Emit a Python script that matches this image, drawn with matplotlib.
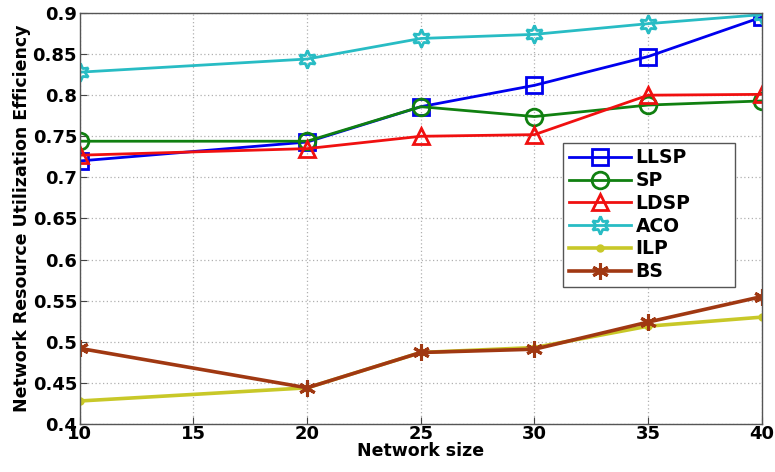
import matplotlib
matplotlib.use("Agg")
import matplotlib.pyplot as plt

network_size = [10, 20, 25, 30, 35, 40]
llsp = [0.720, 0.743, 0.786, 0.812, 0.847, 0.895]
sp = [0.744, 0.744, 0.786, 0.774, 0.788, 0.793]
ldsp = [0.727, 0.735, 0.750, 0.752, 0.800, 0.801]
aco = [0.828, 0.844, 0.869, 0.874, 0.887, 0.898]
ilp = [0.428, 0.444, 0.487, 0.493, 0.519, 0.530]
bs = [0.492, 0.444, 0.487, 0.491, 0.524, 0.555]

x_ticks = [10, 15, 20, 25, 30, 35, 40]
y_ticks = [0.4, 0.45, 0.5, 0.55, 0.6, 0.65, 0.7, 0.75, 0.8, 0.85, 0.9]

plt.rcParams['font.family'] = ['DejaVu Sans']
plt.rcParams['font.weight'] = 'bold'

fig = plt.figure(figsize=(7.75, 4.72), dpi=100)
ax = fig.add_axes([0.103, 0.1017, 0.880, 0.8708])

lw = 2.0
ax.plot(network_size, llsp, color='#0000EE', marker='s', markersize=11,
        markerfacecolor='none', markeredgewidth=2, linewidth=lw, label='LLSP')
ax.plot(network_size, sp, color='#108010', marker='o', markersize=12,
        markerfacecolor='none', markeredgewidth=2, linewidth=lw, label='SP')
ax.plot(network_size, ldsp, color='#F01010', marker='^', markersize=12,
        markerfacecolor='none', markeredgewidth=2, linewidth=lw, label='LDSP')
ax.plot(network_size, aco, color='#28BCC4', marker=(6, 1, 0), markersize=13,
        markerfacecolor='none', markeredgewidth=2, linewidth=lw, label='ACO')
ax.plot(network_size, ilp, color='#C8C828', marker='o', markersize=5,
        linewidth=lw + 0.6, label='ILP')
ax.plot(network_size, bs, color='#A03812', marker=(6, 2, 0), markersize=12,
        markeredgewidth=2.2, linewidth=lw + 0.6, label='BS')

ax.set_xlim(10, 40)
ax.set_ylim(0.4, 0.9)
ax.set_xticks(x_ticks)
ax.set_yticks(y_ticks)
ax.set_yticklabels([f"{v:g}" for v in y_ticks])
ax.tick_params(direction='in', labelsize=13, length=5, color='#444444')
for lab in ax.get_xticklabels() + ax.get_yticklabels():
    lab.set_fontweight('bold')
ax.tick_params(axis='x', pad=1)
ax.tick_params(axis='y', pad=2)
for s in ax.spines.values():
    s.set_color('#555555')
    s.set_linewidth(1.0)

ax.grid(True, linestyle=(0, (1, 2)), color='#B0B0B0', linewidth=0.9)

ax.set_xlabel('Network size', fontsize=12.5, fontweight='bold', labelpad=-1)
ax.set_ylabel('Network Resource Utilization Efficiency', fontsize=12.5,
              fontweight='bold', labelpad=1)

leg = ax.legend(loc='upper left', bbox_to_anchor=(0.709, 0.0, 0.252, 0.684),
                mode='expand',
                prop={'weight': 'bold', 'size': 13.5}, fancybox=False,
                edgecolor='#555555', framealpha=1, handlelength=3.3,
                handletextpad=0.25, borderpad=0.3, labelspacing=0.2,
                borderaxespad=0)
leg.get_frame().set_linewidth(1.0)

fig.savefig('out.png', dpi=100)
